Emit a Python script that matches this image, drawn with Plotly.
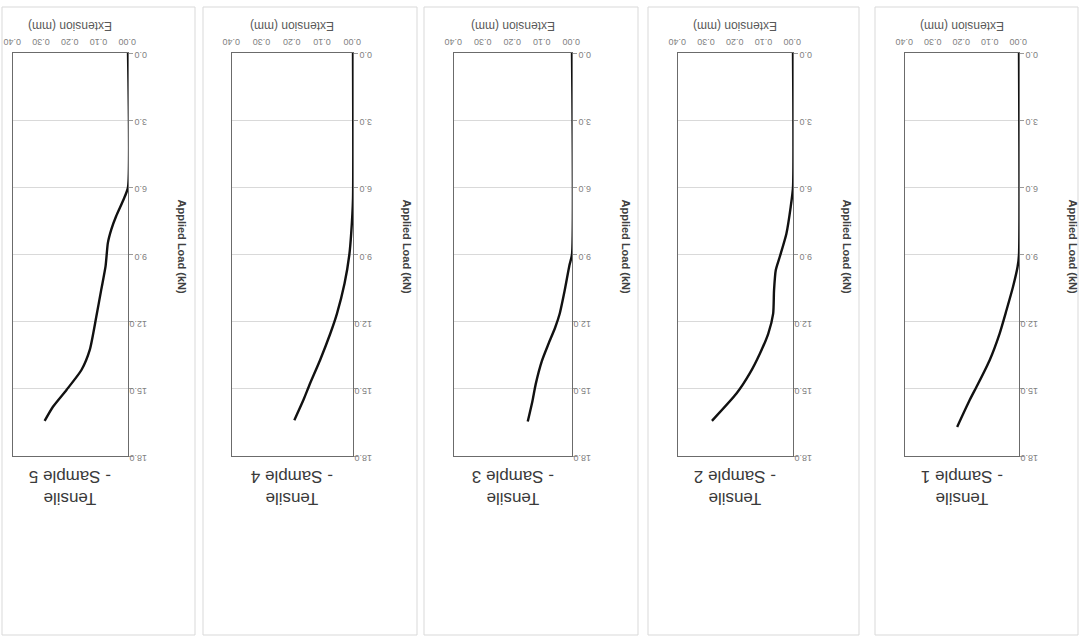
import plotly.graph_objects as go

W, H = 1083, 640

samples = ["Sample 5", "Sample 4", "Sample 3", "Sample 2", "Sample 1"]

s1_load = [0, 9.0, 9.55, 10.44, 11.49, 12.53, 13.72, 14.76, 15.5, 16.7]
s1_ext = [0, 0, 0.005, 0.021, 0.044, 0.068, 0.103, 0.143, 0.173, 0.217]

s2_load = [0, 6.0, 6.87, 8.07, 9.1, 9.7, 10.6, 11.64, 12.53, 13.42, 14.3, 15.2, 16.43]
s2_ext = [0, 0, 0.008, 0.023, 0.046, 0.060, 0.066, 0.069, 0.086, 0.115, 0.150, 0.196, 0.282]

s3_load = [0, 9.0, 9.5, 10.62, 11.66, 12.26, 13.0, 13.75, 14.79, 15.54, 16.46]
s3_ext = [0, 0, 0.009, 0.025, 0.042, 0.057, 0.080, 0.102, 0.123, 0.134, 0.150]

s4_load = [0, 6.5, 8.07, 9.0, 10.3, 11.64, 12.53, 13.72, 14.76, 15.5, 16.4]
s4_ext = [0, 0, 0.006, 0.012, 0.028, 0.053, 0.075, 0.109, 0.142, 0.164, 0.194]

s5_load = [0, 6.0, 6.53, 7.28, 7.88, 8.48, 9.52, 10.57, 11.76, 13.26, 14.16, 15.05, 15.8, 16.43]
s5_ext = [0, 0, 0.015, 0.041, 0.058, 0.070, 0.078, 0.093, 0.110, 0.133, 0.162, 0.214, 0.261, 0.290]

loads = [s5_load, s4_load, s3_load, s2_load, s1_load]
exts = [s5_ext, s4_ext, s3_ext, s2_ext, s1_ext]

ext_ticks = [0.0, 0.1, 0.2, 0.3, 0.4]
load_ticks = [0, 3, 6, 9, 12, 15, 18]

# pixel layout (left, right) of plot areas and cards
plot_lr = [(13, 128), (232, 353), (454, 572), (678, 793), (905, 1019)]
card_lr = [(2, 195), (203, 417), (424, 638), (648, 859), (875, 1078)]
PT, PB = 53, 456
CT, CB = 7, 635

FONT = "Liberation Sans, Arial, sans-serif"

fig = go.Figure()
shapes = []
annotations = []

for i in range(5):
    n = i + 1
    xa = "x" if n == 1 else f"x{n}"
    ya = "y" if n == 1 else f"y{n}"
    fig.add_trace(go.Scatter(
        x=exts[i], y=loads[i], mode="lines",
        line=dict(color="#111111", width=2.4, shape="spline", smoothing=0.6),
        xaxis=xa, yaxis=ya, showlegend=False, hoverinfo="x+y"))
    l, r = plot_lr[i]
    common = dict(showline=True, linecolor="#6b6b6b", linewidth=1.2, mirror=True,
                  zeroline=False, automargin=False,
                  tickfont=dict(size=9, color="#7f7f7f", family=FONT),
                  tickangle=180)
    fig.layout[f"xaxis{'' if n == 1 else n}"] = dict(
        domain=[l / W, r / W], anchor=ya, side="top",
        range=[0.40, 0.0], tickvals=ext_ticks, tickformat=".2f",
        showgrid=False, ticks="", ticklabelshift=-8, **common)
    fig.layout[f"yaxis{'' if n == 1 else n}"] = dict(
        domain=[1 - PB / H, 1 - PT / H], anchor=xa, side="right",
        range=[18, 0], tickvals=load_ticks, tickformat=".1f",
        showgrid=True, gridcolor="#d9d9d9", gridwidth=1,
        ticks="outside", ticklen=4, tickcolor="#9a9a9a",
        ticklabelstandoff=12, ticklabelshift=-5, **common)
    cl, cr = card_lr[i]
    shapes.append(dict(type="rect", xref="paper", yref="paper",
                       x0=cl / W, x1=cr / W, y0=1 - CB / H, y1=1 - CT / H,
                       line=dict(color="#d9d9d9", width=1), fillcolor="rgba(0,0,0,0)",
                       layer="below"))
    cx = (l + r) / 2
    annotations.append(dict(xref="paper", yref="paper", x=cx / W, y=1 - 26 / H,
                            xanchor="center", yanchor="middle",
                            text="Extension (mm)", showarrow=False, textangle=180,
                            font=dict(size=12, color="#595959", family=FONT)))
    annotations.append(dict(xref="paper", yref="paper", x=(r + 54) / W,
                            y=1 - ((PT + PB) / 2 - 8) / H,
                            xanchor="center", yanchor="middle",
                            text="<b>Applied Load (kN)</b>", showarrow=False, textangle=90,
                            font=dict(size=11, color="#404040", family=FONT)))
    annotations.append(dict(xref="paper", yref="paper", x=cx / W, y=1 - 488 / H,
                            xanchor="center", yanchor="middle",
                            text="Tensile<br>- " + samples[i], showarrow=False, textangle=180,
                            font=dict(size=17, color="#3a3a3a", family=FONT)))

fig.update_layout(width=W, height=H, margin=dict(l=0, r=0, t=0, b=0, autoexpand=False),
                  paper_bgcolor="white", plot_bgcolor="white",
                  shapes=shapes, annotations=annotations, showlegend=False)

fig.write_html("out.html", config={"displayModeBar": False},
               post_script="document.body.style.margin='0';")
